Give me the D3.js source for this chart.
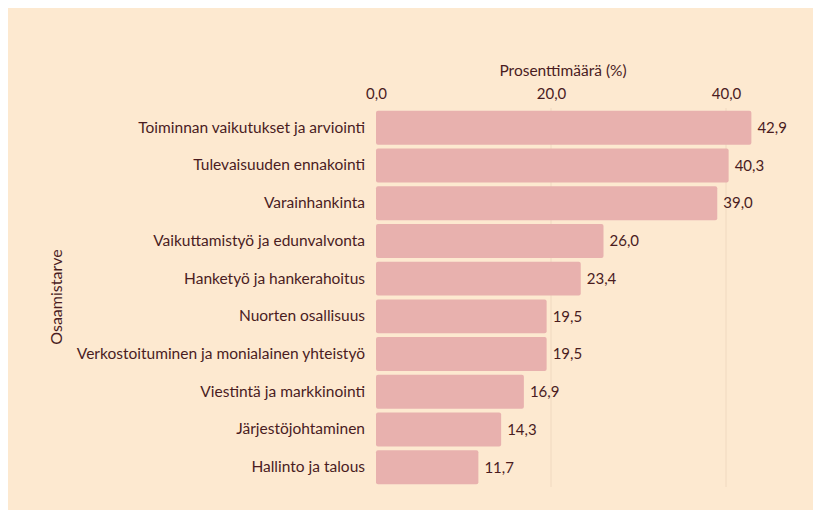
<!DOCTYPE html>
<html><head><meta charset="utf-8">
<script src="https://cdn.jsdelivr.net/npm/d3@7/dist/d3.min.js"></script>
<style>body{margin:0;background:#fff;}svg{display:block;font-family:Lato,"Open Sans",sans-serif;}</style>
</head><body>
<svg id="c" width="821" height="510"></svg>
<script>
const categories = ["Toiminnan vaikutukset ja arviointi","Tulevaisuuden ennakointi","Varainhankinta","Vaikuttamistyö ja edunvalvonta","Hanketyö ja hankerahoitus","Nuorten osallisuus","Verkostoituminen ja monialainen yhteistyö","Viestintä ja markkinointi","Järjestöjohtaminen","Hallinto ja talous"];
const values = [42.9,40.3,39.0,26.0,23.4,19.5,19.5,16.9,14.3,11.7];
const ticks = [0,20,40];
const xTitle = "Prosenttimäärä (%)";
const yTitle = "Osaamistarve";

const svg = d3.select("#c");
const txt = "#4a1c1f";
svg.append("rect").attr("x",8).attr("y",8).attr("width",805).attr("height",502).attr("fill","#fde9d0");

const x = d3.scaleLinear().domain([0,40]).range([376,726]);
const y = d3.scaleBand().domain(categories).range([107,488]).padding(0.1);
const fmt = d => d.toFixed(1).replace(".", ",");

// gridlines
svg.append("g").selectAll("line").data(ticks.slice(1)).join("line")
  .attr("x1",d=>x(d)).attr("x2",d=>x(d)).attr("y1",108).attr("y2",487)
  .attr("stroke","#f0d9c0").attr("stroke-width",1);

// top axis
const ax = svg.append("g").attr("transform","translate(0,103)")
  .call(d3.axisTop(x).tickValues(ticks).tickFormat(fmt).tickSize(0).tickPadding(4));
ax.select(".domain").remove();
ax.selectAll("text").attr("fill",txt).attr("font-size",15).attr("font-family","Lato");

svg.append("text").attr("x",563).attr("y",76).attr("text-anchor","middle")
  .attr("fill",txt).attr("font-size",15.5).text(xTitle);

// bars
svg.append("g").selectAll("rect").data(values).join("rect")
  .attr("x",x(0)).attr("y",(d,i)=>y(categories[i]))
  .attr("width",d=>x(d)-x(0)).attr("height",y.bandwidth())
  .attr("rx",2).attr("fill","#e8b1ae");

// value labels
svg.append("g").selectAll("text").data(values).join("text")
  .attr("x",d=>x(d)+6).attr("y",(d,i)=>y(categories[i])+y.bandwidth()/2)
  .attr("dy","0.35em").attr("fill",txt).attr("font-size",15).text(fmt);

// y axis labels
const ay = svg.append("g").attr("transform","translate(376,0)")
  .call(d3.axisLeft(y).tickSize(0).tickPadding(11));
ay.select(".domain").remove();
ay.selectAll("text").attr("fill",txt).attr("font-size",15.5).attr("font-family","Lato");

svg.append("text").attr("transform","translate(62,297) rotate(-90)").attr("text-anchor","middle")
  .attr("fill",txt).attr("font-size",16).text(yTitle);
</script>
</body></html>
